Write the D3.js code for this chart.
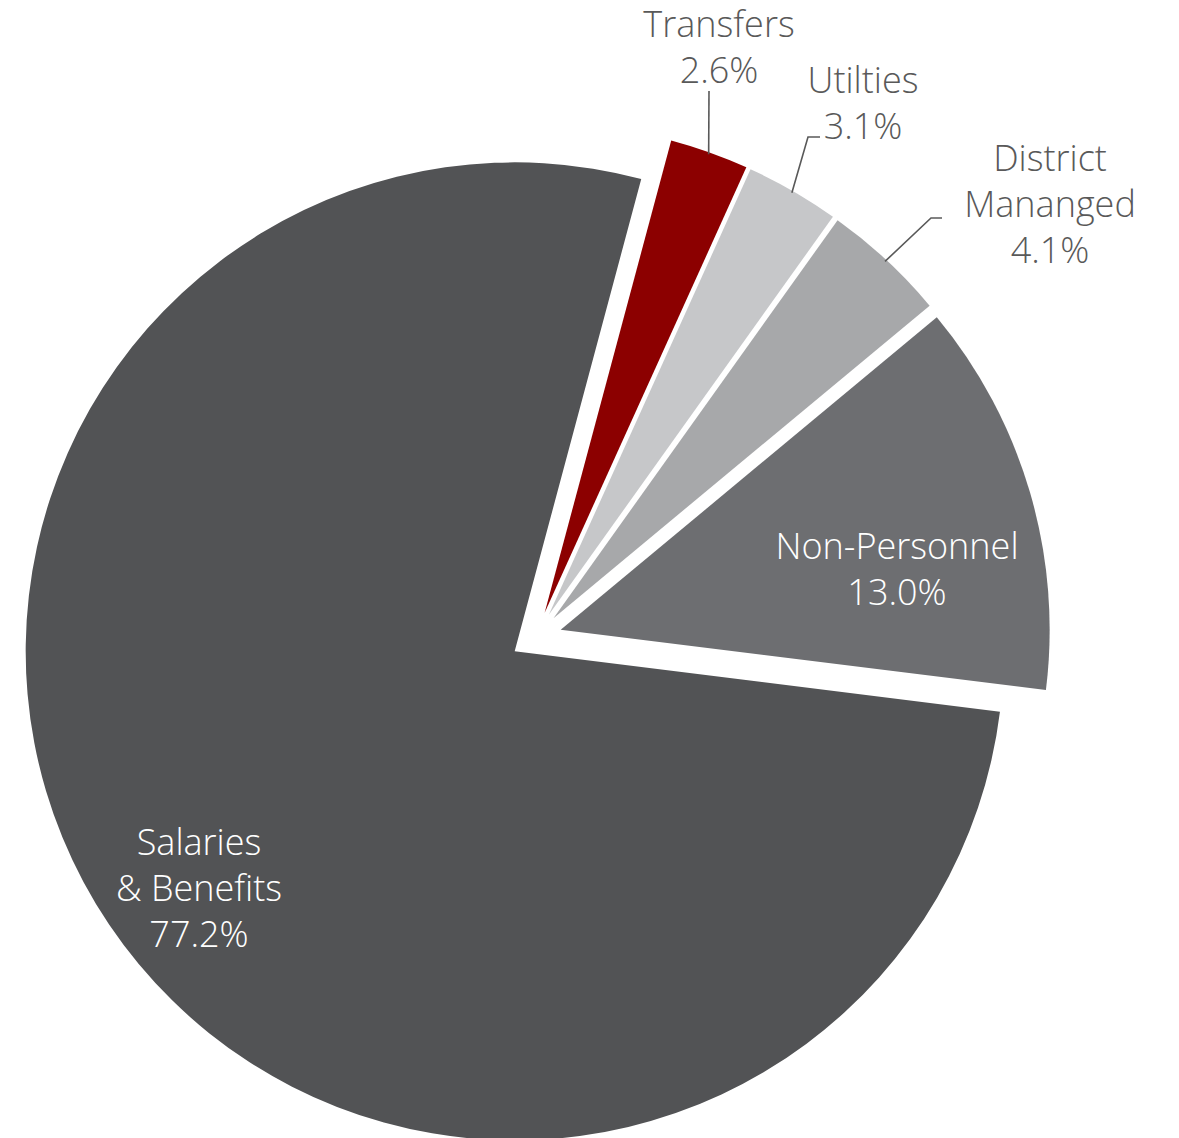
<!DOCTYPE html>
<html>
<head>
<meta charset="utf-8">
<script src="https://cdn.jsdelivr.net/npm/d3@7"></script>
<style>
  body { margin: 0; background: #ffffff; }
  text { font-family: "Open Sans", "Noto Sans", sans-serif; font-weight: 300; }
</style>
</head>
<body>
<svg id="chart" width="1179" height="1138"></svg>
<script>
// Budget share by spending category (percent of total)
const categories = ["Transfers", "Utilties", "District Mananged", "Non-Personnel", "Salaries & Benefits"];
const shares = [2.6, 3.1, 4.1, 13.0, 77.2];
const labelLines = [["Transfers"], ["Utilties"], ["District", "Mananged"], ["Non-Personnel"], ["Salaries", "& Benefits"]];
const sliceColors = ["#8c0000", "#c6c7c9", "#a7a8aa", "#6d6e71", "#525355"];

// Layout settings
const W = 1179, H = 1138;
const cx = 536, cy = 637;       // pie centre before explosion
const radius = 489;
const explode = 25.7;           // every slice pushed out along its bisector
const startDeg = 15;            // first slice begins 15° clockwise from 12 o'clock
const lineGap = 46;
const fontSize = 36;
const outerText = "#595959";

// Per-label placement: text centre x, first baseline y, colour, and leader elbow points (if any)
const labelLayout = [
  { x: 719, y: 37,  fill: outerText, leader: [[709, 91], [709, 91]] },
  { x: 863, y: 93,  fill: outerText, leader: [[820, 137], [808, 137]] },
  { x: 1050, y: 171, fill: outerText, leader: [[942, 218], [931, 218]] },
  { x: 897, y: 559, fill: "#ffffff", leader: null },
  { x: 199, y: 855, fill: "#ffffff", leader: null }
];

const data = categories.map((c, i) => ({ name: c, value: shares[i], lines: labelLines[i], color: sliceColors[i], layout: labelLayout[i] }));

const svg = d3.select("#chart");
const g = svg.append("g").attr("transform", `translate(${cx},${cy})`);

const start = startDeg * Math.PI / 180;
const pie = d3.pie().sort(null).value(d => d.value).startAngle(start).endAngle(start + 2 * Math.PI);
const arc = d3.arc().innerRadius(0).outerRadius(radius);
const arcs = pie(data);

function offsetOf(a) {
  const mid = (a.startAngle + a.endAngle) / 2;
  return [Math.sin(mid) * explode, -Math.cos(mid) * explode];
}

g.selectAll("path.slice")
  .data(arcs)
  .join("path")
  .attr("class", "slice")
  .attr("d", arc)
  .attr("fill", d => d.data.color)
  .attr("transform", d => { const o = offsetOf(d); return `translate(${o[0]},${o[1]})`; });

// Leader lines from label to the outer edge of the slice at its bisector
const lineGen = d3.line();
arcs.forEach(a => {
  const L = a.data.layout;
  if (!L.leader) return;
  const mid = (a.startAngle + a.endAngle) / 2;
  const o = offsetOf(a);
  const r = radius - 2;
  const edge = [cx + o[0] + Math.sin(mid) * r, cy + o[1] - Math.cos(mid) * r];
  svg.append("path")
    .attr("d", lineGen([L.leader[0], L.leader[1], edge]))
    .attr("fill", "none")
    .attr("stroke", outerText)
    .attr("stroke-width", 1.6);
});

// Category names and percentages
const fmt = d3.format(".1f");
arcs.forEach(a => {
  const L = a.data.layout;
  const t = svg.append("text")
    .attr("x", L.x)
    .attr("y", L.y)
    .attr("text-anchor", "middle")
    .attr("font-size", fontSize)
    .attr("fill", L.fill);
  const rows = a.data.lines.concat([fmt(a.data.value) + "%"]);
  rows.forEach((s, i) => {
    t.append("tspan").attr("x", L.x).attr("y", L.y + i * lineGap).text(s);
  });
});
</script>
</body>
</html>
